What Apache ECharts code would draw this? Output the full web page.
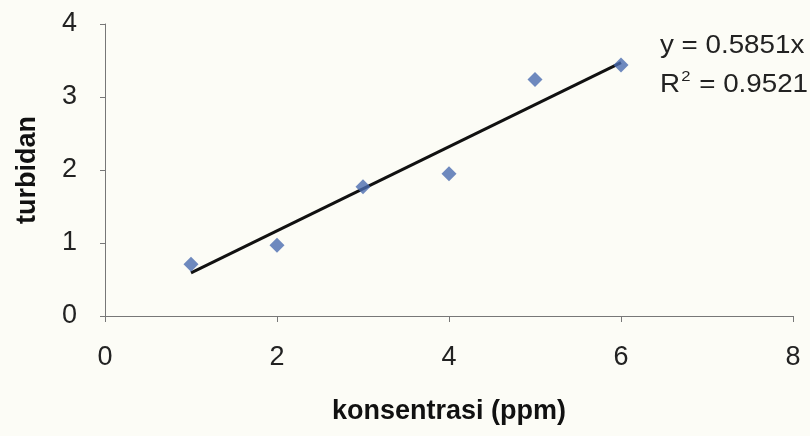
<!DOCTYPE html>
<html><head><meta charset="utf-8">
<script src="https://cdn.jsdelivr.net/npm/echarts@6/dist/echarts.min.js"></script>
<style>html,body{margin:0;padding:0;background:#fcfcf6;}#c{width:810px;height:436px;}</style>
</head><body><div id="c"></div>
<script>
var xValues = [1, 2, 3, 4, 5, 6];
var yValues = [0.71, 0.97, 1.77, 1.95, 3.24, 3.44];
var trendX = [1, 6];
var trendY = [0.59, 3.47];
var xTicks = [0, 2, 4, 6, 8];
var yTicks = [0, 1, 2, 3, 4];
var eqLine1 = 'y = 0.5851x';
var eqLine2R = '0.9521';
var xTitle = 'konsentrasi (ppm)';
var yTitle = 'turbidan';

var chart = echarts.init(document.getElementById('c'), null, {renderer: 'canvas'});
var font = 'Arial, "Liberation Sans", sans-serif';
var points = xValues.map(function (x, i) { return [x, yValues[i]]; });
var trend = trendX.map(function (x, i) { return [x, trendY[i]]; });
chart.setOption({
  backgroundColor: '#fcfcf6',
  animation: false,
  grid: {left: 105, right: 17, top: 24, bottom: 120, containLabel: false, outerBoundsMode: 'none'},
  xAxis: {
    type: 'value', min: xTicks[0], max: xTicks[xTicks.length - 1], interval: 2,
    name: xTitle, nameLocation: 'middle', nameGap: 82,
    nameTextStyle: {fontFamily: font, fontSize: 27, fontWeight: 'bold', color: '#111'},
    axisLine: {lineStyle: {color: '#777', width: 1}},
    axisTick: {show: true, length: 6, inside: false, lineStyle: {color: '#777'}},
    axisLabel: {fontFamily: font, fontSize: 27, color: '#222', margin: 28},
    splitLine: {show: false}
  },
  yAxis: {
    type: 'value', min: yTicks[0], max: yTicks[yTicks.length - 1], interval: 1,
    name: yTitle, nameLocation: 'middle', nameGap: 64,
    nameTextStyle: {fontFamily: font, fontSize: 27, fontWeight: 'bold', color: '#111'},
    axisLine: {show: true, lineStyle: {color: '#777', width: 1}},
    axisTick: {show: true, length: 5, lineStyle: {color: '#777'}},
    axisLabel: {fontFamily: font, fontSize: 27, color: '#222', margin: 28},
    splitLine: {show: false}
  },
  series: [
    {type: 'line', data: trend, symbol: 'none', lineStyle: {color: '#111', width: 3}, z: 2},
    {type: 'scatter', data: points, symbol: 'diamond', symbolSize: [15, 15],
     itemStyle: {color: '#4a6cb0'}, z: 3}
  ],
  graphic: [
    {type: 'text', x: 660, y: 34, scaleX: 1.11, style: {text: eqLine1, font: '25px ' + font, fill: '#222'}},
    {type: 'text', x: 660, y: 69, scaleX: 1.11, style: {
      text: '{r|R}{s|2}{r| = ' + eqLine2R + '}',
      rich: {r: {font: '25px ' + font, fill: '#222', verticalAlign: 'bottom'},
             s: {font: '15px ' + font, fill: '#222', verticalAlign: 'top', padding: [0, 1, 14, 1]}},
      fill: '#222'
    }}
  ]
});
</script></body></html>
